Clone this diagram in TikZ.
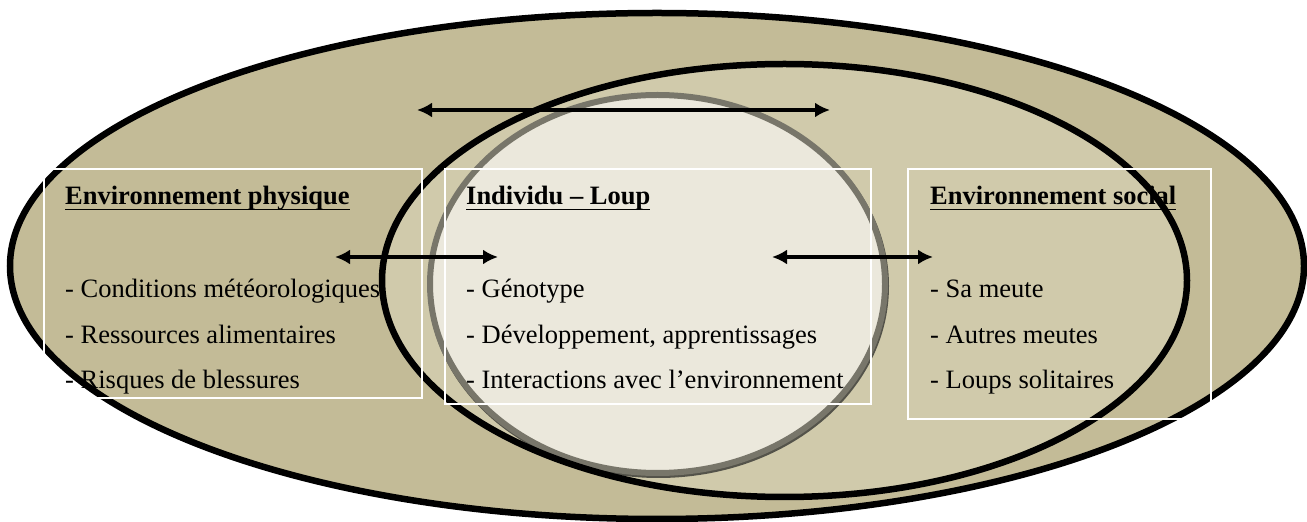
\documentclass[tikz,border=0pt]{standalone}
\usepackage{fontspec}
\setmainfont{Liberation Serif}
\usetikzlibrary{shapes.geometric,arrows.meta,positioning}
\definecolor{outerTan}{HTML}{C3BB97}
\definecolor{midTan}{HTML}{D0CAAB}
\definecolor{innerTan}{HTML}{EBE8DC}
\definecolor{ringGray}{HTML}{78766A}
\newcommand{\zonetitle}[1]{\setbox0=\hbox{\bfseries #1}\rlap{\rule[-5.5pt]{\wd0}{1.8pt}}\box0}
\tikzstyle{zone} = [ellipse, inner sep=0pt, outer sep=0pt, line width=6.5pt]
\tikzstyle{frame} = [rectangle, draw=white, line width=1.5pt, inner sep=0pt]
\tikzstyle{title} = [anchor=base west, inner sep=0pt]
\tikzstyle{item} = [anchor=base west, inner sep=0pt]
\tikzstyle{line} = [draw, {Latex[length=15pt,width=15pt]}-{Latex[length=15pt,width=15pt]},
    line width=4.5pt]

\begin{document}
\begin{tikzpicture}[x=1pt, y=1pt, font=\fontsize{26.5}{32}\selectfont]
      \useasboundingbox (0,0) rectangle (1307,522);
      % the three zones
      \node [zone, draw, fill=outerTan, minimum width=1294, minimum height=506]
         (physique) at (657,256) {};
      \node [zone, fill=midTan, minimum width=805, minimum height=433]
         (social) at (784.5,241.5) {};
      \node [zone, fill=ringGray!70!black, minimum width=461, minimum height=384]
         (loupShadow) at (658.5,236) {};
      \node [zone, draw=ringGray, line width=6pt, fill=innerTan, minimum width=455,
         minimum height=378] (loup) at (657.5,238) {};
      \node [zone, draw, minimum width=805, minimum height=433] (socialEdge) at (social.center) {};

      % frames
      \node [frame, minimum width=378, minimum height=229] (physBox) at (233,238.5) {};
      \node [frame, minimum width=426, minimum height=235] (loupBox) at (658,235.5) {};
      \node [frame, minimum width=303, minimum height=250] (socBox) at (1059.5,228) {};

      \node [title] (physTitle) at (65,317) {\zonetitle{Environnement physique}};
      \node [item, below=93pt of physTitle.base west, anchor=base west] (physA)
         {- Conditions météorologiques};
      \node [item, below=45.5pt of physA.base west, anchor=base west] (physB)
         {- Ressources alimentaires};
      \node [item, below=45.5pt of physB.base west, anchor=base west] (physC)
         {- Risques de blessures};

      \node [title] (loupTitle) at (466,317) {\zonetitle{Individu – Loup}};
      \node [item, below=93pt of loupTitle.base west, anchor=base west] (loupA)
         {- Génotype};
      \node [item, below=45.5pt of loupA.base west, anchor=base west] (loupB)
         {- Développement, apprentissages};
      \node [item, below=45.5pt of loupB.base west, anchor=base west] (loupC)
         {- Interactions avec l’environnement};

      \node [title] (socTitle) at (930,317) {\zonetitle{Environnement social}};
      \node [item, below=93pt of socTitle.base west, anchor=base west] (socA)
         {- Sa meute};
      \node [item, below=45.5pt of socA.base west, anchor=base west] (socB)
         {- Autres meutes};
      \node [item, below=45.5pt of socB.base west, anchor=base west] (socC)
         {- Loups solitaires};

      % arrow ends
      \coordinate (topL) at (417,412);
      \coordinate (topR) at (830,412);
      \coordinate (physEnd) at (335,265);
      \coordinate (loupEndL) at (498,265);
      \coordinate (loupEndR) at (772,265);
      \coordinate (socEnd) at (933,265);

      \path [line] (topL) -- (topR);
      \path [line] (physEnd) -- (loupEndL);
      \path [line] (loupEndR) -- (socEnd);
   \end{tikzpicture}
\end{document}
